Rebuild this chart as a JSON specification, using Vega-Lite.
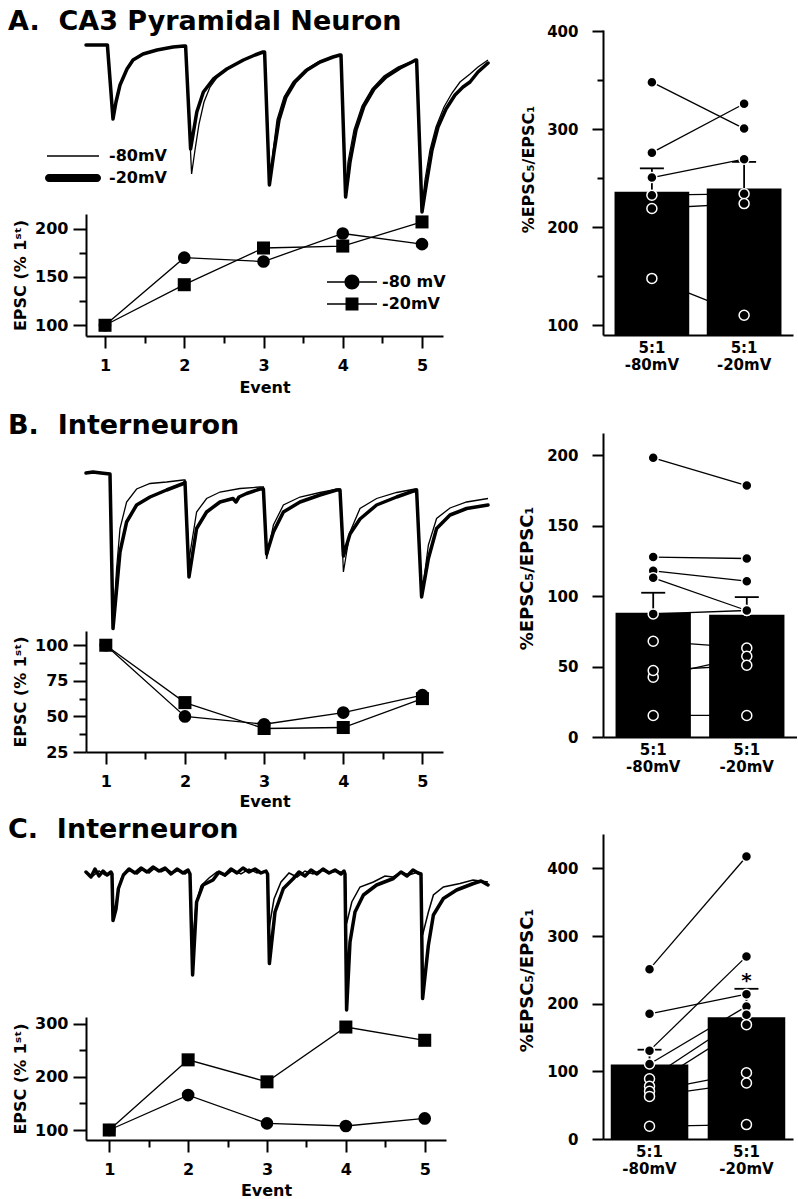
{
"$schema": "https://vega.github.io/schema/vega-lite/v6.json",
"background": "white",
"padding": {"left": 8, "top": 8, "right": 0, "bottom": 0},
"bounds": "flush",
"columns": 2,
"spacing": {"row": 82, "column": 113},
"config": {
  "view": {"stroke": null},
  "font": "DejaVu Sans",
  "axis": {"labelFont": "DejaVu Sans", "labelFontWeight": "bold", "labelFontSize": 16, "labelColor": "black", "titleFont": "DejaVu Sans", "titleFontWeight": "bold", "titleFontSize": 16, "titleColor": "black", "domainColor": "black", "domainWidth": 2, "tickColor": "black", "tickWidth": 2, "grid": false, "labelOverlap": false, "labelFlush": false},
  "legend": {"labelFont": "DejaVu Sans", "labelFontWeight": "bold", "labelFontSize": 16, "labelColor": "black"},
  "title": {"font": "DejaVu Sans", "fontWeight": "bold", "fontSize": 27, "color": "black"}
},
"datasets": {
  "traceA": [
    {"t":-13.5,"I":0,"V":"-20mV"},{"t":-2.8,"I":0,"V":"-20mV"},{"t":0,"I":-148,"V":"-20mV"},{"t":1.5,"I":-114,"V":"-20mV"},{"t":3.5,"I":-80,"V":"-20mV"},{"t":7,"I":-48,"V":"-20mV"},{"t":10,"I":-30,"V":"-20mV"},{"t":15,"I":-18,"V":"-20mV"},{"t":22,"I":-10,"V":"-20mV"},{"t":30,"I":-4,"V":"-20mV"},{"t":35.5,"I":-2,"V":"-20mV"},
    {"t":36.3,"I":-2,"V":"-20mV"},{"t":38.8,"I":-208,"V":"-20mV"},{"t":41.9,"I":-134,"V":"-20mV"},{"t":45.2,"I":-94,"V":"-20mV"},{"t":50.2,"I":-68,"V":"-20mV"},{"t":56.9,"I":-48,"V":"-20mV"},{"t":65.2,"I":-30,"V":"-20mV"},{"t":71,"I":-20,"V":"-20mV"},{"t":75,"I":-14,"V":"-20mV"},
    {"t":75.8,"I":-14,"V":"-20mV"},{"t":78.2,"I":-280,"V":"-20mV"},{"t":80.5,"I":-214,"V":"-20mV"},{"t":83,"I":-150,"V":"-20mV"},{"t":86.5,"I":-104,"V":"-20mV"},{"t":91,"I":-74,"V":"-20mV"},{"t":97,"I":-50,"V":"-20mV"},{"t":103.5,"I":-34,"V":"-20mV"},{"t":110,"I":-24,"V":"-20mV"},{"t":113.5,"I":-20,"V":"-20mV"},
    {"t":114,"I":-20,"V":"-20mV"},{"t":116.3,"I":-304,"V":"-20mV"},{"t":118.5,"I":-234,"V":"-20mV"},{"t":121.5,"I":-170,"V":"-20mV"},{"t":125.5,"I":-122,"V":"-20mV"},{"t":130.5,"I":-88,"V":"-20mV"},{"t":136.5,"I":-64,"V":"-20mV"},{"t":143.5,"I":-46,"V":"-20mV"},{"t":149.5,"I":-34,"V":"-20mV"},{"t":151.3,"I":-30,"V":"-20mV"},
    {"t":151.8,"I":-30,"V":"-20mV"},{"t":154.5,"I":-334,"V":"-20mV"},{"t":157,"I":-270,"V":"-20mV"},{"t":159.5,"I":-210,"V":"-20mV"},{"t":162.5,"I":-164,"V":"-20mV"},{"t":166.5,"I":-128,"V":"-20mV"},{"t":171,"I":-100,"V":"-20mV"},{"t":175,"I":-84,"V":"-20mV"},{"t":178.5,"I":-74,"V":"-20mV"},{"t":182.5,"I":-54,"V":"-20mV"},{"t":187.5,"I":-36,"V":"-20mV"},
    {"t":-13.5,"I":0,"V":"-80mV"},{"t":-2.8,"I":0,"V":"-80mV"},{"t":0,"I":-148,"V":"-80mV"},{"t":1.5,"I":-114,"V":"-80mV"},{"t":3.5,"I":-80,"V":"-80mV"},{"t":7,"I":-48,"V":"-80mV"},{"t":10,"I":-30,"V":"-80mV"},{"t":15,"I":-18,"V":"-80mV"},{"t":22,"I":-10,"V":"-80mV"},{"t":30,"I":-4,"V":"-80mV"},{"t":35.5,"I":-2,"V":"-80mV"},
    {"t":36.3,"I":-2,"V":"-80mV"},{"t":39.3,"I":-258,"V":"-80mV"},{"t":41,"I":-210,"V":"-80mV"},{"t":43,"I":-158,"V":"-80mV"},{"t":45.5,"I":-114,"V":"-80mV"},{"t":48.5,"I":-84,"V":"-80mV"},{"t":52.5,"I":-62,"V":"-80mV"},{"t":57.5,"I":-46,"V":"-80mV"},{"t":65,"I":-30,"V":"-80mV"},{"t":71,"I":-20,"V":"-80mV"},{"t":75,"I":-14,"V":"-80mV"},
    {"t":75.8,"I":-14,"V":"-80mV"},{"t":78.3,"I":-280,"V":"-80mV"},{"t":80,"I":-214,"V":"-80mV"},{"t":82,"I":-150,"V":"-80mV"},{"t":85.5,"I":-104,"V":"-80mV"},{"t":90,"I":-74,"V":"-80mV"},{"t":96,"I":-50,"V":"-80mV"},{"t":102.5,"I":-34,"V":"-80mV"},{"t":109.5,"I":-24,"V":"-80mV"},{"t":113.5,"I":-20,"V":"-80mV"},
    {"t":114,"I":-20,"V":"-80mV"},{"t":116.3,"I":-300,"V":"-80mV"},{"t":117.5,"I":-234,"V":"-80mV"},{"t":120.5,"I":-170,"V":"-80mV"},{"t":124.5,"I":-122,"V":"-80mV"},{"t":129.5,"I":-88,"V":"-80mV"},{"t":135.5,"I":-62,"V":"-80mV"},{"t":142.5,"I":-44,"V":"-80mV"},{"t":148.5,"I":-34,"V":"-80mV"},{"t":151.3,"I":-30,"V":"-80mV"},
    {"t":151.8,"I":-30,"V":"-80mV"},{"t":154.5,"I":-326,"V":"-80mV"},{"t":156,"I":-270,"V":"-80mV"},{"t":158.5,"I":-210,"V":"-80mV"},{"t":161.5,"I":-164,"V":"-80mV"},{"t":165.5,"I":-124,"V":"-80mV"},{"t":169.5,"I":-96,"V":"-80mV"},{"t":173.5,"I":-74,"V":"-80mV"},{"t":178.5,"I":-58,"V":"-80mV"},{"t":182.5,"I":-44,"V":"-80mV"},{"t":187.5,"I":-30,"V":"-80mV"}
  ],
  "traceB": [
    {"t":-13.5,"I":2,"V":"-20mV"},{"t":-10,"I":4,"V":"-20mV"},{"t":-6,"I":2,"V":"-20mV"},{"t":-1.5,"I":0,"V":"-20mV"},{"t":0,"I":-309,"V":"-20mV"},{"t":3.5,"I":-156,"V":"-20mV"},{"t":6.8,"I":-96,"V":"-20mV"},{"t":11.8,"I":-62,"V":"-20mV"},{"t":18.5,"I":-46,"V":"-20mV"},{"t":26.8,"I":-32,"V":"-20mV"},{"t":35.2,"I":-19,"V":"-20mV"},
    {"t":36,"I":-16,"V":"-20mV"},{"t":38,"I":-206,"V":"-20mV"},{"t":41.8,"I":-109,"V":"-20mV"},{"t":46.8,"I":-76,"V":"-20mV"},{"t":53.5,"I":-56,"V":"-20mV"},{"t":60,"I":-49,"V":"-20mV"},{"t":61.5,"I":-56,"V":"-20mV"},{"t":63,"I":-46,"V":"-20mV"},{"t":66.8,"I":-39,"V":"-20mV"},{"t":73.5,"I":-30,"V":"-20mV"},
    {"t":75.2,"I":-30,"V":"-20mV"},{"t":76.8,"I":-160,"V":"-20mV"},{"t":80.2,"I":-116,"V":"-20mV"},{"t":85.2,"I":-76,"V":"-20mV"},{"t":93.5,"I":-56,"V":"-20mV"},{"t":103.5,"I":-42,"V":"-20mV"},{"t":111.8,"I":-32,"V":"-20mV"},
    {"t":113.5,"I":-32,"V":"-20mV"},{"t":115.2,"I":-164,"V":"-20mV"},{"t":118.5,"I":-120,"V":"-20mV"},{"t":123.5,"I":-90,"V":"-20mV"},{"t":131.8,"I":-62,"V":"-20mV"},{"t":141.8,"I":-46,"V":"-20mV"},{"t":150.2,"I":-34,"V":"-20mV"},
    {"t":151.8,"I":-32,"V":"-20mV"},{"t":154.3,"I":-246,"V":"-20mV"},{"t":157.7,"I":-169,"V":"-20mV"},{"t":161.8,"I":-109,"V":"-20mV"},{"t":168.5,"I":-82,"V":"-20mV"},{"t":176.8,"I":-69,"V":"-20mV"},{"t":187.5,"I":-62,"V":"-20mV"},
    {"t":-13.5,"I":2,"V":"-80mV"},{"t":-10,"I":4,"V":"-80mV"},{"t":-6,"I":2,"V":"-80mV"},{"t":-1.5,"I":0,"V":"-80mV"},{"t":0,"I":-309,"V":"-80mV"},{"t":1.8,"I":-189,"V":"-80mV"},{"t":3.5,"I":-109,"V":"-80mV"},{"t":6.8,"I":-56,"V":"-80mV"},{"t":11.8,"I":-30,"V":"-80mV"},{"t":18.5,"I":-19,"V":"-80mV"},{"t":26.8,"I":-16,"V":"-80mV"},{"t":35.2,"I":-12,"V":"-80mV"},
    {"t":36,"I":-12,"V":"-80mV"},{"t":38,"I":-172,"V":"-80mV"},{"t":41.8,"I":-76,"V":"-80mV"},{"t":46.8,"I":-49,"V":"-80mV"},{"t":53.5,"I":-36,"V":"-80mV"},{"t":63.5,"I":-29,"V":"-80mV"},{"t":73.5,"I":-26,"V":"-80mV"},
    {"t":75.2,"I":-26,"V":"-80mV"},{"t":76.8,"I":-170,"V":"-80mV"},{"t":80.2,"I":-102,"V":"-80mV"},{"t":85.2,"I":-62,"V":"-80mV"},{"t":93.5,"I":-46,"V":"-80mV"},{"t":103.5,"I":-37,"V":"-80mV"},{"t":112.7,"I":-30,"V":"-80mV"},
    {"t":113.5,"I":-30,"V":"-80mV"},{"t":115.2,"I":-196,"V":"-80mV"},{"t":118.5,"I":-116,"V":"-80mV"},{"t":123.5,"I":-69,"V":"-80mV"},{"t":131.8,"I":-49,"V":"-80mV"},{"t":141.8,"I":-37,"V":"-80mV"},{"t":151,"I":-30,"V":"-80mV"},
    {"t":151.8,"I":-30,"V":"-80mV"},{"t":154.3,"I":-246,"V":"-80mV"},{"t":157.7,"I":-142,"V":"-80mV"},{"t":161.8,"I":-89,"V":"-80mV"},{"t":168.5,"I":-68,"V":"-80mV"},{"t":176.8,"I":-56,"V":"-80mV"},{"t":187.5,"I":-49,"V":"-80mV"}
  ],
  "traceC": [
    {"t":-13.5,"I":4,"V":"-20mV"},{"t":-11,"I":-6,"V":"-20mV"},{"t":-9,"I":10,"V":"-20mV"},{"t":-7,"I":-4,"V":"-20mV"},{"t":-5,"I":6,"V":"-20mV"},{"t":-3,"I":-2,"V":"-20mV"},{"t":-1,"I":4,"V":"-20mV"},{"t":-0.5,"I":0,"V":"-20mV"},{"t":0,"I":-93,"V":"-20mV"},{"t":1.5,"I":-70,"V":"-20mV"},{"t":2.7,"I":-29,"V":"-20mV"},{"t":5.2,"I":-2,"V":"-20mV"},{"t":8,"I":10,"V":"-20mV"},{"t":11,"I":2,"V":"-20mV"},{"t":14,"I":12,"V":"-20mV"},{"t":17,"I":4,"V":"-20mV"},{"t":20,"I":14,"V":"-20mV"},{"t":23,"I":6,"V":"-20mV"},{"t":26,"I":12,"V":"-20mV"},{"t":29,"I":0,"V":"-20mV"},{"t":32,"I":10,"V":"-20mV"},{"t":35,"I":2,"V":"-20mV"},{"t":37.5,"I":8,"V":"-20mV"},
    {"t":38.5,"I":0,"V":"-20mV"},{"t":39.8,"I":-202,"V":"-20mV"},{"t":41.8,"I":-56,"V":"-20mV"},{"t":45,"I":-22,"V":"-20mV"},{"t":50,"I":-12,"V":"-20mV"},{"t":53,"I":4,"V":"-20mV"},{"t":56,"I":-2,"V":"-20mV"},{"t":59,"I":10,"V":"-20mV"},{"t":62,"I":2,"V":"-20mV"},{"t":65,"I":12,"V":"-20mV"},{"t":68,"I":4,"V":"-20mV"},{"t":71,"I":10,"V":"-20mV"},{"t":74,"I":2,"V":"-20mV"},{"t":76.5,"I":6,"V":"-20mV"},
    {"t":77.3,"I":0,"V":"-20mV"},{"t":78.2,"I":-179,"V":"-20mV"},{"t":81,"I":-76,"V":"-20mV"},{"t":85.2,"I":-29,"V":"-20mV"},{"t":90.2,"I":-9,"V":"-20mV"},{"t":93,"I":4,"V":"-20mV"},{"t":96,"I":-4,"V":"-20mV"},{"t":99,"I":8,"V":"-20mV"},{"t":102,"I":0,"V":"-20mV"},{"t":105,"I":10,"V":"-20mV"},{"t":108,"I":2,"V":"-20mV"},{"t":111,"I":8,"V":"-20mV"},{"t":114,"I":0,"V":"-20mV"},{"t":115.5,"I":6,"V":"-20mV"},
    {"t":116,"I":0,"V":"-20mV"},{"t":116.8,"I":-272,"V":"-20mV"},{"t":118.5,"I":-136,"V":"-20mV"},{"t":121,"I":-76,"V":"-20mV"},{"t":125.2,"I":-42,"V":"-20mV"},{"t":131.8,"I":-22,"V":"-20mV"},{"t":140.2,"I":-9,"V":"-20mV"},{"t":144,"I":4,"V":"-20mV"},{"t":147,"I":-4,"V":"-20mV"},{"t":150,"I":8,"V":"-20mV"},{"t":152.5,"I":2,"V":"-20mV"},
    {"t":154,"I":0,"V":"-20mV"},{"t":154.8,"I":-249,"V":"-20mV"},{"t":157.7,"I":-142,"V":"-20mV"},{"t":160.2,"I":-82,"V":"-20mV"},{"t":165.2,"I":-49,"V":"-20mV"},{"t":171.8,"I":-32,"V":"-20mV"},{"t":180.2,"I":-19,"V":"-20mV"},{"t":184,"I":-14,"V":"-20mV"},{"t":187.5,"I":-22,"V":"-20mV"},
    {"t":-13.5,"I":2,"V":"-80mV"},{"t":-10,"I":-4,"V":"-80mV"},{"t":-7,"I":6,"V":"-80mV"},{"t":-4,"I":-2,"V":"-80mV"},{"t":-1,"I":2,"V":"-80mV"},{"t":-0.5,"I":0,"V":"-80mV"},{"t":0,"I":-90,"V":"-80mV"},{"t":2,"I":-50,"V":"-80mV"},{"t":4,"I":-10,"V":"-80mV"},{"t":6,"I":2,"V":"-80mV"},{"t":9,"I":8,"V":"-80mV"},{"t":12,"I":0,"V":"-80mV"},{"t":15,"I":10,"V":"-80mV"},{"t":18,"I":2,"V":"-80mV"},{"t":21,"I":12,"V":"-80mV"},{"t":24,"I":4,"V":"-80mV"},{"t":27,"I":10,"V":"-80mV"},{"t":30,"I":2,"V":"-80mV"},{"t":33,"I":8,"V":"-80mV"},{"t":36,"I":0,"V":"-80mV"},{"t":38,"I":6,"V":"-80mV"},
    {"t":38.5,"I":0,"V":"-80mV"},{"t":39.8,"I":-146,"V":"-80mV"},{"t":41.5,"I":-60,"V":"-80mV"},{"t":44,"I":-24,"V":"-80mV"},{"t":48,"I":-8,"V":"-80mV"},{"t":52,"I":4,"V":"-80mV"},{"t":56,"I":-4,"V":"-80mV"},{"t":60,"I":8,"V":"-80mV"},{"t":64,"I":0,"V":"-80mV"},{"t":68,"I":10,"V":"-80mV"},{"t":72,"I":2,"V":"-80mV"},{"t":76,"I":6,"V":"-80mV"},
    {"t":77.3,"I":0,"V":"-80mV"},{"t":78.2,"I":-104,"V":"-80mV"},{"t":80.5,"I":-50,"V":"-80mV"},{"t":84,"I":-16,"V":"-80mV"},{"t":88,"I":2,"V":"-80mV"},{"t":92,"I":-6,"V":"-80mV"},{"t":96,"I":6,"V":"-80mV"},{"t":100,"I":0,"V":"-80mV"},{"t":104,"I":8,"V":"-80mV"},{"t":108,"I":2,"V":"-80mV"},{"t":112,"I":6,"V":"-80mV"},{"t":115.5,"I":2,"V":"-80mV"},
    {"t":116,"I":0,"V":"-80mV"},{"t":116.8,"I":-99,"V":"-80mV"},{"t":119.4,"I":-56,"V":"-80mV"},{"t":123.5,"I":-26,"V":"-80mV"},{"t":130.2,"I":-16,"V":"-80mV"},{"t":136,"I":-4,"V":"-80mV"},{"t":140,"I":-6,"V":"-80mV"},{"t":144,"I":4,"V":"-80mV"},{"t":148,"I":-2,"V":"-80mV"},{"t":152.5,"I":4,"V":"-80mV"},
    {"t":154,"I":0,"V":"-80mV"},{"t":154.8,"I":-122,"V":"-80mV"},{"t":157.7,"I":-76,"V":"-80mV"},{"t":160.2,"I":-42,"V":"-80mV"},{"t":165.2,"I":-26,"V":"-80mV"},{"t":173.5,"I":-19,"V":"-80mV"},{"t":180,"I":-12,"V":"-80mV"},{"t":187.5,"I":-16,"V":"-80mV"}
  ],
  "lineA": [
    {"event":1,"V":"-80 mV","pct":100},{"event":2,"V":"-80 mV","pct":170},{"event":3,"V":"-80 mV","pct":166},{"event":4,"V":"-80 mV","pct":195},{"event":5,"V":"-80 mV","pct":184},
    {"event":1,"V":"-20mV","pct":100},{"event":2,"V":"-20mV","pct":142},{"event":3,"V":"-20mV","pct":180},{"event":4,"V":"-20mV","pct":182},{"event":5,"V":"-20mV","pct":207}
  ],
  "lineB": [
    {"event":1,"V":"-80 mV","pct":100},{"event":2,"V":"-80 mV","pct":50},{"event":3,"V":"-80 mV","pct":44.5},{"event":4,"V":"-80 mV","pct":52.7},{"event":5,"V":"-80 mV","pct":64.9},
    {"event":1,"V":"-20mV","pct":100},{"event":2,"V":"-20mV","pct":59.7},{"event":3,"V":"-20mV","pct":41.5},{"event":4,"V":"-20mV","pct":42.2},{"event":5,"V":"-20mV","pct":62.5}
  ],
  "lineC": [
    {"event":1,"V":"-80 mV","pct":100},{"event":2,"V":"-80 mV","pct":165.7},{"event":3,"V":"-80 mV","pct":112.5},{"event":4,"V":"-80 mV","pct":107.5},{"event":5,"V":"-80 mV","pct":121.8},
    {"event":1,"V":"-20mV","pct":100},{"event":2,"V":"-20mV","pct":232},{"event":3,"V":"-20mV","pct":190.6},{"event":4,"V":"-20mV","pct":293.7},{"event":5,"V":"-20mV","pct":268.8}
  ],
  "barA": [{"cond":"-80mV","mean":236,"upper":260},{"cond":"-20mV","mean":239.4,"upper":266.6}],
  "barB": [{"cond":"-80mV","mean":88.2,"upper":102.4},{"cond":"-20mV","mean":86.7,"upper":99.3}],
  "barC": [{"cond":"-80mV","mean":110,"upper":132},{"cond":"-20mV","mean":180,"upper":222}],
  "ptsA": [
    {"cell":1,"cond":"-80mV","v":348},{"cell":1,"cond":"-20mV","v":300.6},
    {"cell":2,"cond":"-80mV","v":276},{"cell":2,"cond":"-20mV","v":326},
    {"cell":3,"cond":"-80mV","v":250.6},{"cell":3,"cond":"-20mV","v":269.4},
    {"cell":4,"cond":"-80mV","v":232.6},{"cell":4,"cond":"-20mV","v":234},
    {"cell":5,"cond":"-80mV","v":219},{"cell":5,"cond":"-20mV","v":224},
    {"cell":6,"cond":"-80mV","v":147.6},{"cell":6,"cond":"-20mV","v":110}
  ],
  "ptsB": [
    {"cell":1,"cond":"-80mV","v":198.2},{"cell":1,"cond":"-20mV","v":178.5},
    {"cell":2,"cond":"-80mV","v":127.7},{"cell":2,"cond":"-20mV","v":126.7},
    {"cell":3,"cond":"-80mV","v":118},{"cell":3,"cond":"-20mV","v":110.6},
    {"cell":4,"cond":"-80mV","v":113},{"cell":4,"cond":"-20mV","v":89.8},
    {"cell":5,"cond":"-80mV","v":87.4},{"cell":5,"cond":"-20mV","v":89.8},
    {"cell":6,"cond":"-80mV","v":68},{"cell":6,"cond":"-20mV","v":63.2},
    {"cell":7,"cond":"-80mV","v":42.5},{"cell":7,"cond":"-20mV","v":57.3},
    {"cell":8,"cond":"-80mV","v":47.2},{"cell":8,"cond":"-20mV","v":50.9},
    {"cell":9,"cond":"-80mV","v":15.3},{"cell":9,"cond":"-20mV","v":15.3}
  ],
  "ptsC": [
    {"cell":1,"cond":"-80mV","v":251},{"cell":1,"cond":"-20mV","v":417.6},
    {"cell":2,"cond":"-80mV","v":130.6},{"cell":2,"cond":"-20mV","v":269.9},
    {"cell":3,"cond":"-80mV","v":185},{"cell":3,"cond":"-20mV","v":214},
    {"cell":4,"cond":"-80mV","v":110.8},{"cell":4,"cond":"-20mV","v":196},
    {"cell":5,"cond":"-80mV","v":89},{"cell":5,"cond":"-20mV","v":183.7},
    {"cell":6,"cond":"-80mV","v":78},{"cell":6,"cond":"-20mV","v":169},
    {"cell":7,"cond":"-80mV","v":70.5},{"cell":7,"cond":"-20mV","v":98},
    {"cell":8,"cond":"-80mV","v":63},{"cell":8,"cond":"-20mV","v":82.8},
    {"cell":9,"cond":"-80mV","v":18.8},{"cell":9,"cond":"-20mV","v":21.3}
  ],
  "starC": [{"cond":"-20mV","y":224,"label":"*"}]
},
"concat": [
  {"width": 404, "height": 306,
   "title": {"text": "A.\u00a0 CA3 Pyramidal Neuron", "anchor": "start", "frame": "group", "dx": -78, "dy": 27, "offset": 0, "baseline": "alphabetic"},
   "resolve": {"scale": {"x": "independent", "y": "independent", "shape": "independent"}},
   "layer": [
     {"data": {"name": "traceA"},
      "encoding": {
        "x": {"field": "t", "type": "quantitative", "scale": {"domain": [-13.5, 188.5], "range": [0, 404], "nice": false, "zero": false}, "axis": null},
        "y": {"field": "I", "type": "quantitative", "scale": {"domain": [-338, 30], "range": [184, 0], "nice": false, "zero": false}, "axis": null}
      },
      "layer": [
        {"transform": [{"filter": "datum.V === '-20mV'"}], "mark": {"type": "line", "color": "black", "strokeWidth": 3.5, "strokeJoin": "round", "strokeCap": "round"}},
        {"transform": [{"filter": "datum.V === '-80mV'"}], "mark": {"type": "line", "color": "black", "strokeWidth": 1.3}},
        {"mark": {"type": "point", "filled": true, "fill": "black", "stroke": "black", "strokeWidth": 1.5, "opacity": 0},
         "encoding": {"shape": {"field": "V", "type": "nominal",
           "scale": {"domain": ["-80mV", "-20mV"], "range": ["M-3.25,-0.09H3.25V0.09H-3.25Z", "M-3,-0.5H3A0.5,0.5,0,0,1,3,0.5H-3A0.5,0.5,0,0,1,-3,-0.5Z"]},
           "legend": {"title": null, "orient": "none", "legendX": -21, "legendY": 118, "symbolSize": 256, "symbolStrokeWidth": 0, "symbolFillColor": "black", "symbolStrokeColor": "black", "symbolOpacity": 1, "labelOffset": 28, "rowPadding": 6, "padding": 0}}}}
      ]},
     {"data": {"name": "lineA"},
      "encoding": {
        "x": {"field": "event", "type": "quantitative", "scale": {"domain": [0.76, 5.265], "range": [0, 357], "nice": false, "zero": false},
              "axis": {"orient": "bottom", "title": "Event", "values": [1,1.5,2,2.5,3,3.5,4,4.5,5], "labelExpr": "datum.value % 1 === 0 ? format(datum.value, 'd') : ''", "tickSize": {"condition": {"test": "datum.value % 1 === 0", "value": 12}, "value": 7}, "labelPadding": 9, "titlePadding": 6}},
        "y": {"field": "pct", "type": "quantitative", "scale": {"domain": [88.9, 215.2], "range": [306, 184], "nice": false, "zero": false},
              "axis": {"orient": "left", "title": "EPSC (% 1ˢᵗ)", "values": [100,125,150,175,200], "labelExpr": "datum.value % 50 === 0 ? format(datum.value, 'd') : ''", "tickSize": {"condition": {"test": "datum.value % 50 === 0", "value": 13}, "value": 7}, "labelPadding": 5, "titlePadding": 6}}
      },
      "layer": [
        {"mark": {"type": "line", "color": "black", "strokeWidth": 1.3}, "encoding": {"detail": {"field": "V"}}},
        {"transform": [{"filter": "datum.V === '-80 mV'"}], "mark": {"type": "point", "shape": "circle", "filled": true, "color": "black", "size": 160, "opacity": 1}},
        {"transform": [{"filter": "datum.V === '-20mV'"}], "mark": {"type": "point", "shape": "square", "filled": true, "color": "black", "size": 170, "opacity": 1}},
        {"mark": {"type": "point", "filled": true, "fill": "black", "stroke": "black", "strokeWidth": 1.3, "opacity": 0},
         "encoding": {"shape": {"field": "V", "type": "nominal",
           "scale": {"domain": ["-80 mV", "-20mV"], "range": ["M-3.125,-0.08H-0.94V0.08H-3.125Z M0.94,-0.08H3.125V0.08H0.94Z M-0.94,0A0.94,0.94,0,1,0,0.94,0A0.94,0.94,0,1,0,-0.94,0Z", "M-3.125,-0.08H-0.81V0.08H-3.125Z M0.81,-0.08H3.125V0.08H0.81Z M-0.81,-0.81H0.81V0.81H-0.81Z"]},
           "legend": {"title": null, "orient": "none", "legendX": 258, "legendY": 244, "symbolSize": 256, "symbolStrokeWidth": 0, "symbolFillColor": "black", "symbolStrokeColor": "black", "symbolOpacity": 1, "labelOffset": 22, "rowPadding": 6, "padding": 0}}}}
      ]}
   ]},
  {"width": 190, "height": 305,
   "encoding": {"x": {"field": "cond", "type": "nominal", "scale": {"domain": ["-80mV", "-20mV"], "paddingInner": 0.19, "paddingOuter": 0.125},
      "axis": {"title": null, "ticks": false, "labelExpr": "['5:1', datum.label]", "labelPadding": 5, "labelFontSize": 15, "labelLineHeight": 17, "labelAngle": 0}}},
   "layer": [
     {"data": {"name": "barA"}, "mark": {"type": "bar", "color": "black"},
      "encoding": {"y": {"field": "mean", "type": "quantitative", "title": "%EPSC₅/EPSC₁", "scale": {"domain": [89.8, 401.3], "nice": false, "zero": false},
         "axis": {"values": [100,150,200,250,300,350,400], "labelExpr": "datum.value % 100 === 0 ? format(datum.value, 'd') : ''", "tickSize": {"condition": {"test": "datum.value % 100 === 0", "value": 11}, "value": 6}, "labelPadding": 14, "labelFontSize": 15, "titleFontSize": 16, "titlePadding": 10, "titleY": 139}},
        "y2": {"datum": 89.8}}},
     {"data": {"name": "barA"}, "mark": {"type": "rule", "color": "black", "strokeWidth": 1.8},
      "encoding": {"y": {"field": "mean", "type": "quantitative", "title": "%EPSC₅/EPSC₁"}, "y2": {"field": "upper"}}},
     {"data": {"name": "barA"}, "mark": {"type": "tick", "color": "black", "thickness": 1.8, "size": 24, "opacity": 1},
      "encoding": {"y": {"field": "upper", "type": "quantitative", "title": "%EPSC₅/EPSC₁"}}},
     {"data": {"name": "ptsA"}, "mark": {"type": "line", "color": "black", "strokeWidth": 1.3},
      "encoding": {"y": {"field": "v", "type": "quantitative", "title": "%EPSC₅/EPSC₁"}, "detail": {"field": "cell"}}},
     {"data": {"name": "ptsA"}, "mark": {"type": "circle", "fill": "black", "stroke": "white", "strokeWidth": 1.5, "size": 100, "opacity": 1},
      "encoding": {"y": {"field": "v", "type": "quantitative", "title": "%EPSC₅/EPSC₁"}}}
   ]},
  {"width": 404, "height": 334,
   "title": {"text": "B.\u00a0 Interneuron", "anchor": "start", "frame": "group", "dx": -78, "dy": 42.5, "offset": 0, "baseline": "alphabetic"},
   "resolve": {"scale": {"x": "independent", "y": "independent"}},
   "layer": [
     {"data": {"name": "traceB"},
      "encoding": {
        "x": {"field": "t", "type": "quantitative", "scale": {"domain": [-13.5, 188.5], "range": [0, 404], "nice": false, "zero": false}, "axis": null},
        "y": {"field": "I", "type": "quantitative", "scale": {"domain": [-314, 82], "range": [213, 15], "nice": false, "zero": false}, "axis": null}
      },
      "layer": [
        {"transform": [{"filter": "datum.V === '-20mV'"}], "mark": {"type": "line", "color": "black", "strokeWidth": 3.5, "strokeJoin": "round", "strokeCap": "round"}},
        {"transform": [{"filter": "datum.V === '-80mV'"}], "mark": {"type": "line", "color": "black", "strokeWidth": 1.3}}
      ]},
     {"data": {"name": "lineB"},
      "encoding": {
        "x": {"field": "event", "type": "quantitative", "scale": {"domain": [0.75, 5.26], "range": [0, 357], "nice": false, "zero": false},
              "axis": {"orient": "bottom", "title": "Event", "values": [1,1.5,2,2.5,3,3.5,4,4.5,5], "labelExpr": "datum.value % 1 === 0 ? format(datum.value, 'd') : ''", "tickSize": {"condition": {"test": "datum.value % 1 === 0", "value": 12}, "value": 7}, "labelPadding": 9, "titlePadding": 4}},
        "y": {"field": "pct", "type": "quantitative", "scale": {"domain": [25, 110], "range": [334, 213], "nice": false, "zero": false},
              "axis": {"orient": "left", "title": "EPSC (% 1ˢᵗ)", "values": [25,37.5,50,62.5,75,87.5,100], "labelExpr": "datum.value % 25 === 0 ? format(datum.value, 'd') : ''", "tickSize": {"condition": {"test": "datum.value % 25 === 0", "value": 13}, "value": 7}, "labelPadding": 5, "titlePadding": 6}}
      },
      "layer": [
        {"mark": {"type": "line", "color": "black", "strokeWidth": 1.3}, "encoding": {"detail": {"field": "V"}}},
        {"transform": [{"filter": "datum.V === '-80 mV'"}], "mark": {"type": "point", "shape": "circle", "filled": true, "color": "black", "size": 160, "opacity": 1}},
        {"transform": [{"filter": "datum.V === '-20mV'"}], "mark": {"type": "point", "shape": "square", "filled": true, "color": "black", "size": 170, "opacity": 1}}
      ]}
   ]},
  {"width": 194, "height": 319,
   "encoding": {"x": {"field": "cond", "type": "nominal", "scale": {"domain": ["-80mV", "-20mV"], "paddingInner": 0.195, "paddingOuter": 0.134},
      "axis": {"title": null, "ticks": false, "labelExpr": "['5:1', datum.label]", "labelPadding": 5, "labelFontSize": 15, "labelLineHeight": 17, "labelAngle": 0}}},
   "layer": [
     {"data": {"name": "barB"}, "mark": {"type": "bar", "color": "black"},
      "encoding": {"y": {"field": "mean", "type": "quantitative", "title": "%EPSC₅/EPSC₁", "scale": {"domain": [0, 215.8], "range": [319, 15], "nice": false, "zero": false},
         "axis": {"values": [0,25,50,75,100,125,150,175,200], "labelExpr": "datum.value % 50 === 0 ? format(datum.value, 'd') : ''", "tickSize": {"condition": {"test": "datum.value % 50 === 0", "value": 11}, "value": 6}, "labelPadding": 14, "labelFontSize": 15, "titleFontSize": 18, "titlePadding": 10, "titleY": 160}},
        "y2": {"datum": 0}}},
     {"data": {"name": "barB"}, "mark": {"type": "rule", "color": "black", "strokeWidth": 1.8},
      "encoding": {"y": {"field": "mean", "type": "quantitative", "title": "%EPSC₅/EPSC₁"}, "y2": {"field": "upper"}}},
     {"data": {"name": "barB"}, "mark": {"type": "tick", "color": "black", "thickness": 1.8, "size": 24, "opacity": 1},
      "encoding": {"y": {"field": "upper", "type": "quantitative", "title": "%EPSC₅/EPSC₁"}}},
     {"data": {"name": "ptsB"}, "mark": {"type": "line", "color": "black", "strokeWidth": 1.3},
      "encoding": {"y": {"field": "v", "type": "quantitative", "title": "%EPSC₅/EPSC₁"}, "detail": {"field": "cell"}}},
     {"data": {"name": "ptsB"}, "mark": {"type": "circle", "fill": "black", "stroke": "white", "strokeWidth": 1.5, "size": 100, "opacity": 1},
      "encoding": {"y": {"field": "v", "type": "quantitative", "title": "%EPSC₅/EPSC₁"}}}
   ]},
  {"width": 404, "height": 306,
   "title": {"text": "C.\u00a0 Interneuron", "anchor": "start", "frame": "group", "dx": -78, "dy": 31, "offset": 0, "baseline": "alphabetic"},
   "resolve": {"scale": {"x": "independent", "y": "independent"}},
   "layer": [
     {"data": {"name": "traceC"},
      "encoding": {
        "x": {"field": "t", "type": "quantitative", "scale": {"domain": [-13.5, 188.5], "range": [0, 404], "nice": false, "zero": false}, "axis": null},
        "y": {"field": "I", "type": "quantitative", "scale": {"domain": [-286, 80], "range": [183, 0], "nice": false, "zero": false}, "axis": null}
      },
      "layer": [
        {"transform": [{"filter": "datum.V === '-20mV'"}], "mark": {"type": "line", "color": "black", "strokeWidth": 3.5, "strokeJoin": "round", "strokeCap": "round"}},
        {"transform": [{"filter": "datum.V === '-80mV'"}], "mark": {"type": "line", "color": "black", "strokeWidth": 1.5}}
      ]},
     {"data": {"name": "lineC"},
      "encoding": {
        "x": {"field": "event", "type": "quantitative", "scale": {"domain": [0.705, 5.27], "range": [0, 360], "nice": false, "zero": false},
              "axis": {"orient": "bottom", "title": "Event", "values": [1,1.5,2,2.5,3,3.5,4,4.5,5], "labelExpr": "datum.value % 1 === 0 ? format(datum.value, 'd') : ''", "tickSize": {"condition": {"test": "datum.value % 1 === 0", "value": 12}, "value": 7}, "labelPadding": 9, "titlePadding": 5}},
        "y": {"field": "pct", "type": "quantitative", "scale": {"domain": [81.2, 312.6], "range": [306, 183], "nice": false, "zero": false},
              "axis": {"orient": "left", "title": "EPSC (% 1ˢᵗ)", "values": [100,150,200,250,300], "labelExpr": "datum.value % 100 === 0 ? format(datum.value, 'd') : ''", "tickSize": {"condition": {"test": "datum.value % 100 === 0", "value": 13}, "value": 7}, "labelPadding": 5, "titlePadding": 6}}
      },
      "layer": [
        {"mark": {"type": "line", "color": "black", "strokeWidth": 1.3}, "encoding": {"detail": {"field": "V"}}},
        {"transform": [{"filter": "datum.V === '-80 mV'"}], "mark": {"type": "point", "shape": "circle", "filled": true, "color": "black", "size": 160, "opacity": 1}},
        {"transform": [{"filter": "datum.V === '-20mV'"}], "mark": {"type": "point", "shape": "square", "filled": true, "color": "black", "size": 170, "opacity": 1}}
      ]}
   ]},
  {"width": 190, "height": 305,
   "encoding": {"x": {"field": "cond", "type": "nominal", "scale": {"domain": ["-80mV", "-20mV"], "paddingInner": 0.2, "paddingOuter": 0.08},
      "axis": {"title": null, "ticks": false, "labelExpr": "['5:1', datum.label]", "labelPadding": 5, "labelFontSize": 15, "labelLineHeight": 17, "labelAngle": 0}}},
   "layer": [
     {"data": {"name": "barC"}, "mark": {"type": "bar", "color": "black"},
      "encoding": {"y": {"field": "mean", "type": "quantitative", "title": "%EPSC₅/EPSC₁", "scale": {"domain": [0, 450.8], "nice": false, "zero": false},
         "axis": {"values": [0,50,100,150,200,250,300,350,400], "labelExpr": "datum.value % 100 === 0 ? format(datum.value, 'd') : ''", "tickSize": {"condition": {"test": "datum.value % 100 === 0", "value": 11}, "value": 6}, "labelPadding": 14, "labelFontSize": 15, "titleFontSize": 18, "titlePadding": 10, "titleY": 146}},
        "y2": {"datum": 0}}},
     {"data": {"name": "barC"}, "mark": {"type": "rule", "color": "black", "strokeWidth": 1.8},
      "encoding": {"y": {"field": "mean", "type": "quantitative", "title": "%EPSC₅/EPSC₁"}, "y2": {"field": "upper"}}},
     {"data": {"name": "barC"}, "mark": {"type": "tick", "color": "black", "thickness": 1.8, "size": 24, "opacity": 1},
      "encoding": {"y": {"field": "upper", "type": "quantitative", "title": "%EPSC₅/EPSC₁"}}},
     {"data": {"name": "ptsC"}, "mark": {"type": "line", "color": "black", "strokeWidth": 1.3},
      "encoding": {"y": {"field": "v", "type": "quantitative", "title": "%EPSC₅/EPSC₁"}, "detail": {"field": "cell"}}},
     {"data": {"name": "ptsC"}, "mark": {"type": "circle", "fill": "black", "stroke": "white", "strokeWidth": 1.5, "size": 100, "opacity": 1},
      "encoding": {"y": {"field": "v", "type": "quantitative", "title": "%EPSC₅/EPSC₁"}}},
     {"data": {"name": "starC"}, "mark": {"type": "text", "font": "DejaVu Sans", "fontWeight": "bold", "fontSize": 20, "baseline": "alphabetic", "color": "black"},
      "encoding": {"y": {"field": "y", "type": "quantitative", "title": "%EPSC₅/EPSC₁"}, "text": {"field": "label"}}}
   ]}
]
}
